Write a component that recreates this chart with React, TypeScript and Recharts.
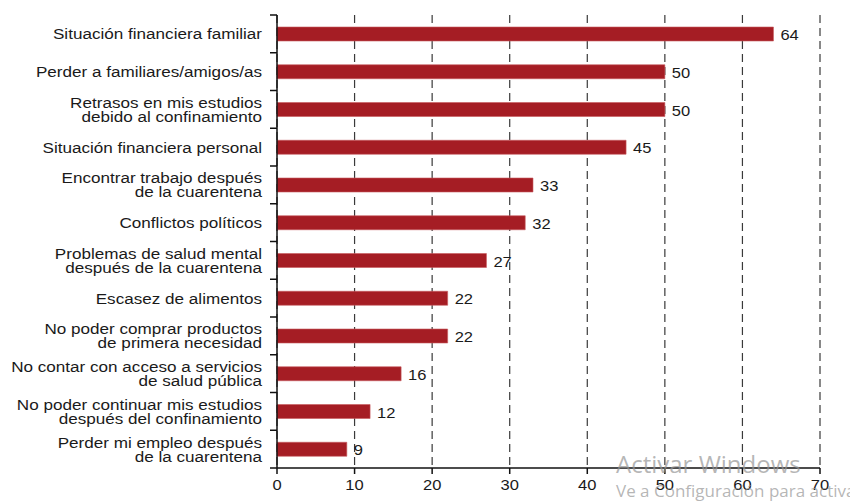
import React from "react";
import { BarChart, Bar, XAxis, YAxis, CartesianGrid, LabelList } from "recharts";

const categories: string[] = [
  "Situación financiera familiar",
  "Perder a familiares/amigos/as",
  "Retrasos en mis estudios\ndebido al confinamiento",
  "Situación financiera personal",
  "Encontrar trabajo después\nde la cuarentena",
  "Conflictos políticos",
  "Problemas de salud mental\ndespués de la cuarentena",
  "Escasez de alimentos",
  "No poder comprar productos\nde primera necesidad",
  "No contar con acceso a servicios\nde salud pública",
  "No poder continuar mis estudios\ndespués del confinamiento",
  "Perder mi empleo después\nde la cuarentena",
];

const values: number[] = [64, 50, 50, 45, 33, 32, 27, 22, 22, 16, 12, 9];

const xTicks: number[] = [0, 10, 20, 30, 40, 50, 60, 70];

const watermark: string[] = ["Activar Windows", "Ve a Configuración para activar Windows."];

const data = categories.map((c, i) => ({ name: c, value: values[i] }));

const FONT = "'Liberation Sans', Arial, Helvetica, sans-serif";
const SX = 1.14;
const W = 850;
const H = 502;
const MARGIN = { top: 15, right: 30, bottom: 4, left: 0 };
const X_AXIS_H = 30;
const BAND_HALF = (H - MARGIN.top - MARGIN.bottom - X_AXIS_H) / categories.length / 2;

const stretch = (x: number) => `translate(${x},0) scale(${SX},1) translate(${-x},0)`;

const YTick = (props: any) => {
  const { x, y, payload, index } = props;
  const lines: string[] = String(payload.value).split("\n");
  const lh = 14;
  const startY = y - ((lines.length - 1) * lh) / 2;
  const axisX = x + 15;
  return (
    <g>
      <line x1={axisX - 7} x2={axisX} y1={y - BAND_HALF} y2={y - BAND_HALF} stroke="#111" strokeWidth={1.5} />
      {index === categories.length - 1 && (
        <line x1={axisX - 7} x2={axisX} y1={y + BAND_HALF} y2={y + BAND_HALF} stroke="#111" strokeWidth={1.5} />
      )}
      <text x={x} y={startY} textAnchor="end" fontSize={15} fontFamily={FONT} fill="#1a1a1a" transform={stretch(x)}>
        {lines.map((l, i) => (
          <tspan key={i} x={x} dy={i === 0 ? "0.36em" : lh}>
            {l}
          </tspan>
        ))}
      </text>
    </g>
  );
};

const XTick = (props: any) => {
  const { x, y, payload } = props;
  return (
    <text x={x} y={y + 4} textAnchor="middle" dominantBaseline="hanging" fontSize={14.5} fontFamily={FONT} fill="#1a1a1a" transform={stretch(x)}>
      {payload.value}
    </text>
  );
};

const ValueLabel = (props: any) => {
  const { x, y, width, height, value } = props;
  const lx = x + width + 7;
  return (
    <text x={lx} y={y + height / 2 + 1} dy="0.36em" fontSize={14.5} fontFamily={FONT} fill="#1a1a1a" transform={stretch(lx)}>
      {value}
    </text>
  );
};

export default function App() {
  return (
    <div style={{ position: "absolute", left: 0, top: 0, width: W, height: H, overflow: "hidden", background: "#fff" }}>
      <BarChart width={W} height={H} data={data} layout="vertical" margin={MARGIN}>
        <CartesianGrid
          horizontal={false}
          vertical={true}
          stroke="#3a3a3a"
          strokeDasharray="8 5"
          strokeWidth={1.2}
        />
        <XAxis
          type="number"
          domain={[0, 70]}
          ticks={xTicks}
          interval={0}
          height={X_AXIS_H}
          tickSize={6}
          tickLine={{ stroke: "#111", strokeWidth: 1.5 }}
          axisLine={{ stroke: "#111", strokeWidth: 1.5 }}
          tick={<XTick />}
        />
        <YAxis
          type="category"
          dataKey="name"
          width={277}
          interval={0}
          tickLine={false}
          axisLine={{ stroke: "#111", strokeWidth: 1.5 }}
          tickSize={0}
          tickMargin={15}
          tick={<YTick />}
        />
        <Bar dataKey="value" fill="#a51d24" stroke="#c85a5e" strokeWidth={0.6} barSize={14} isAnimationActive={false}>
          <LabelList dataKey="value" content={<ValueLabel />} />
        </Bar>
      </BarChart>
      <svg
        width={W}
        height={H}
        style={{ position: "absolute", left: 0, top: 0, pointerEvents: "none" }}
      >
        <text x={616} y={473} fontSize={24} fontFamily="'Open Sans', 'Noto Sans', sans-serif" fill="rgba(150,150,150,0.7)">
          {watermark[0]}
        </text>
        <text x={616} y={497} fontSize={17} fontFamily="'Open Sans', 'Noto Sans', sans-serif" fill="rgba(150,150,150,0.7)">
          {watermark[1]}
        </text>
      </svg>
    </div>
  );
}
